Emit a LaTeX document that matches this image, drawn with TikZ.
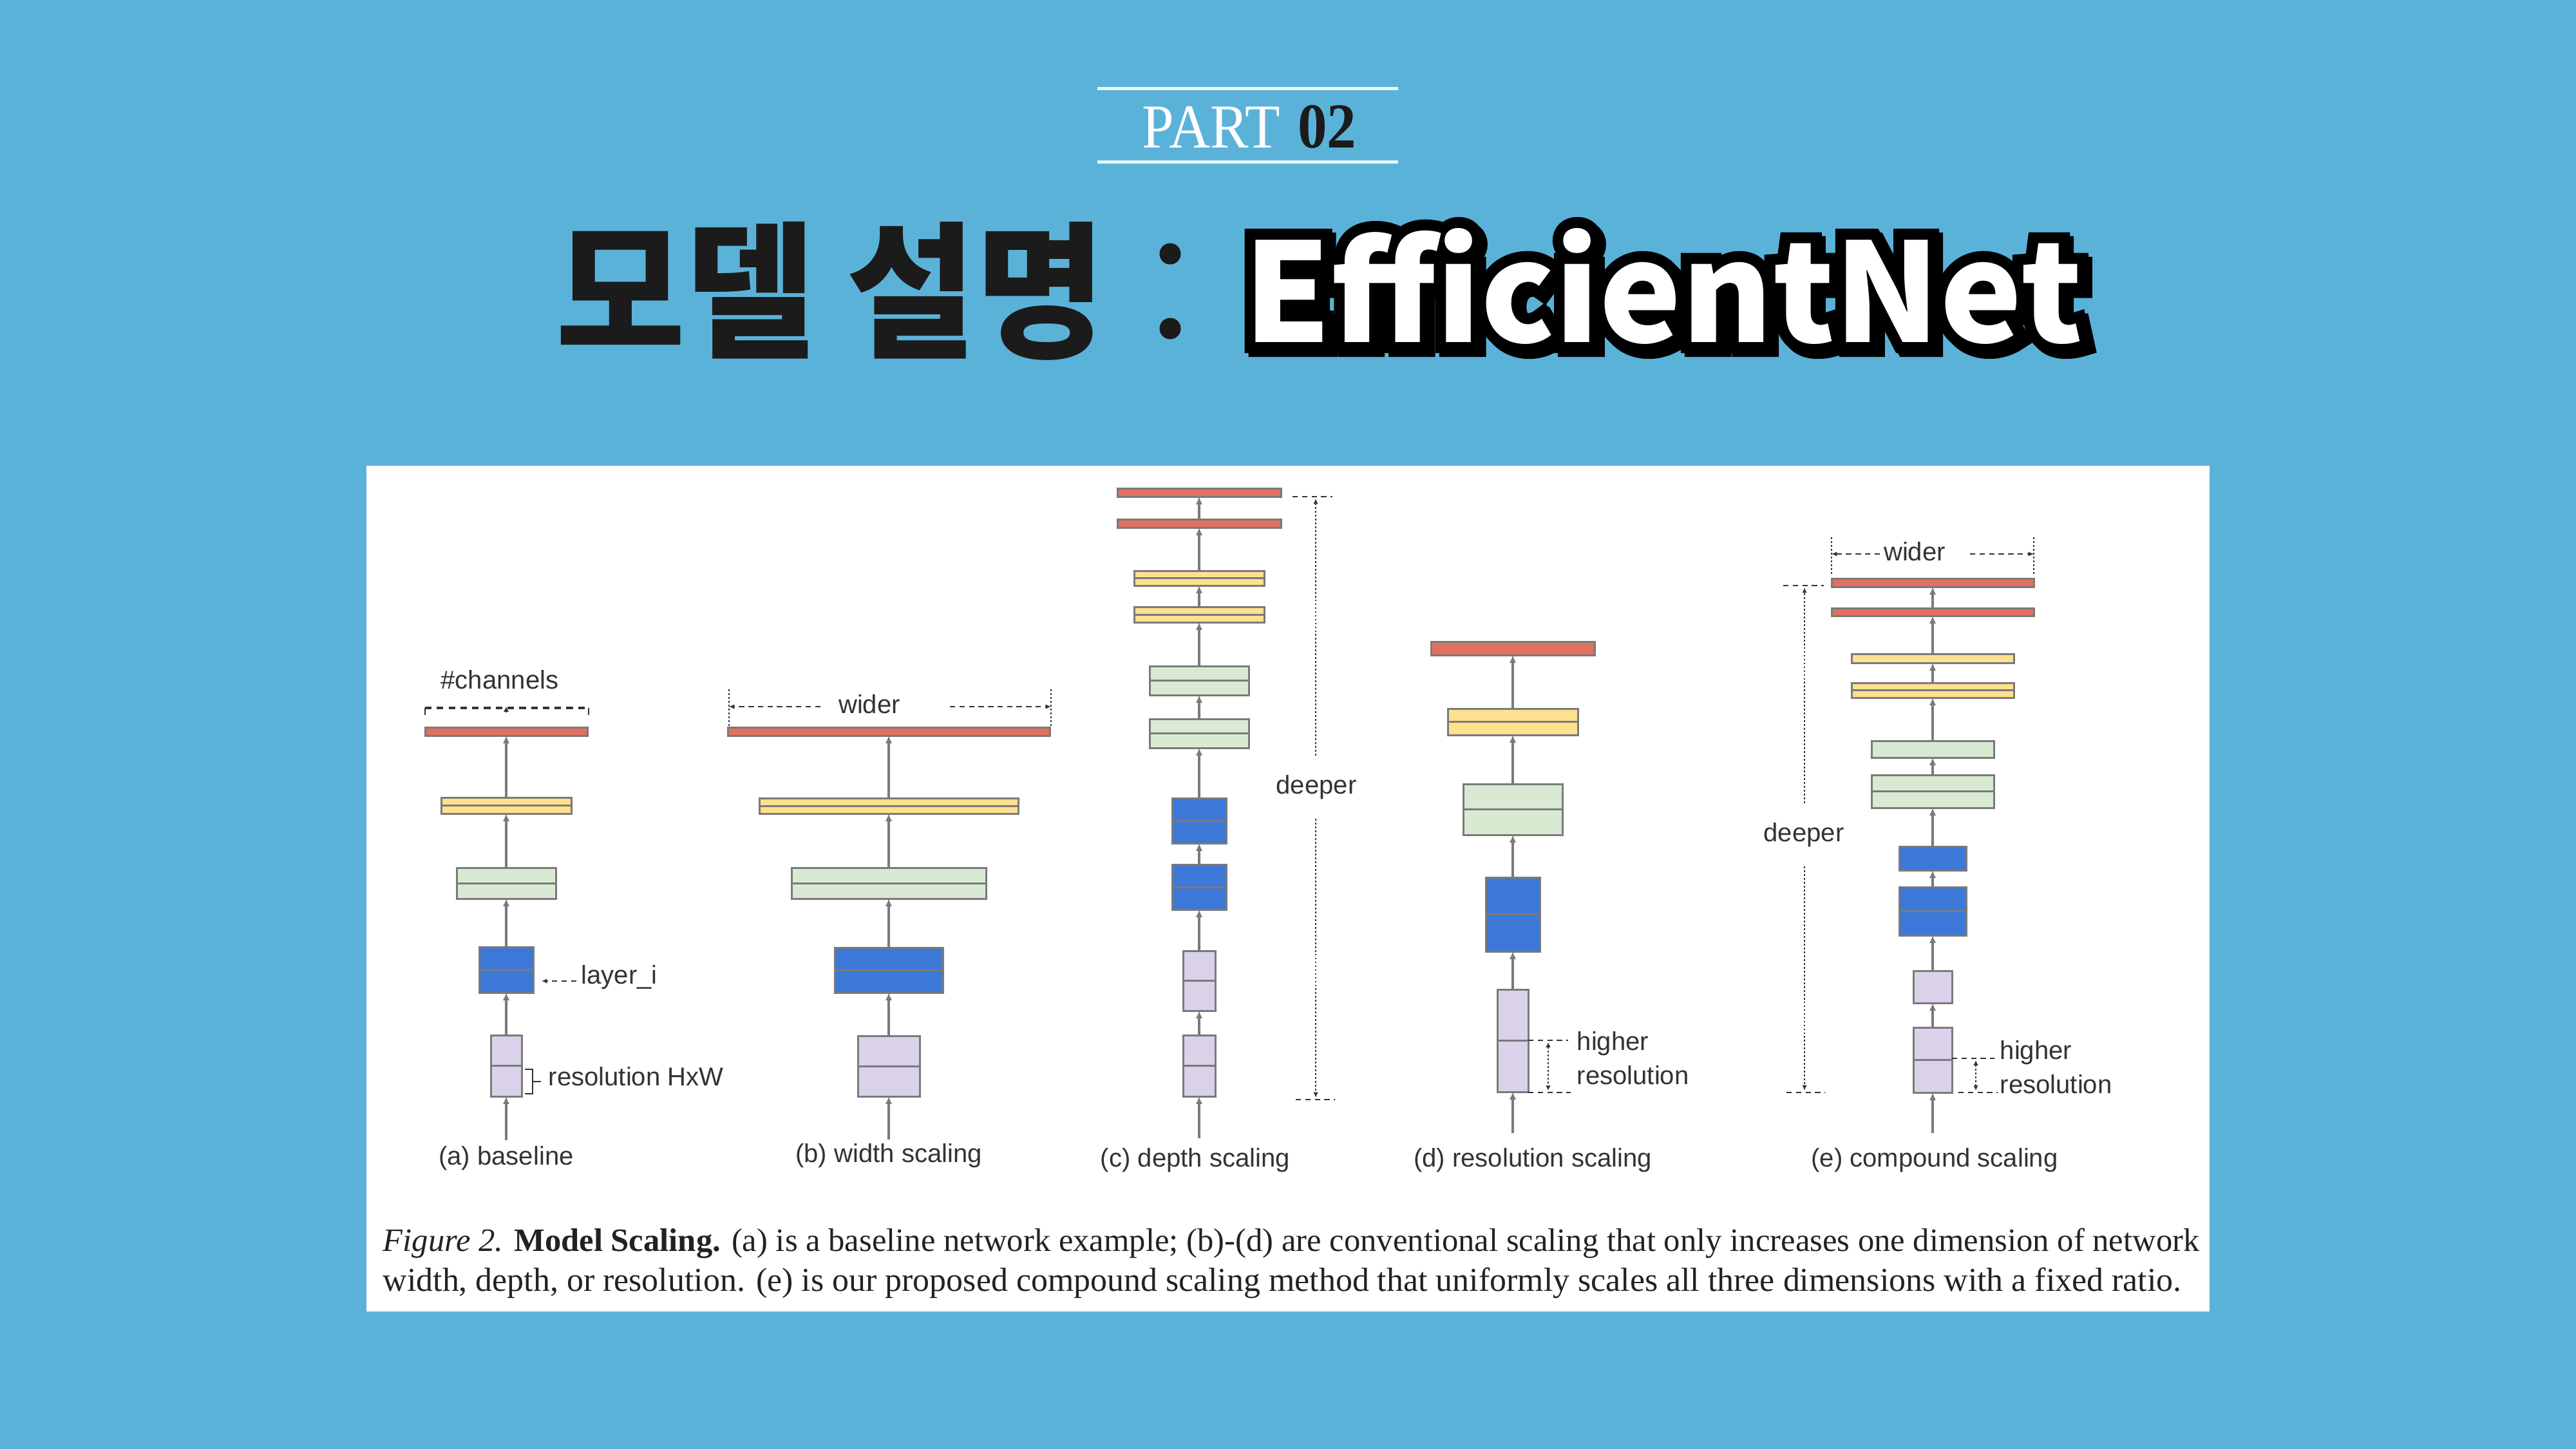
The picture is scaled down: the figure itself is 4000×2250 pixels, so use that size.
\documentclass[tikz,border=0pt]{standalone}
\usepackage{fontspec}
\usepackage{graphicx}
\setmainfont{Liberation Serif}
\newfontfamily\krfont{Noto Sans CJK KR}
\newfontfamily\outlinefont{Noto Sans CJK KR}[BoldFeatures={FakeBold=16}]
\newfontfamily\labelfont{Liberation Sans}
\usetikzlibrary{arrows.meta,fit,calc}

\definecolor{bgblue}{HTML}{5BB2D8}
\definecolor{inkdark}{HTML}{1B1B1B}
\definecolor{rulewhite}{HTML}{EAF5FB}
\definecolor{lyrRed}{HTML}{E0705F}
\definecolor{lyrYellow}{HTML}{FFE08F}
\definecolor{lyrGreen}{HTML}{D9EAD3}
\definecolor{lyrBlue}{HTML}{3C78D8}
\definecolor{lyrPurple}{HTML}{D9D2E9}
\definecolor{edge}{HTML}{7A7A7A}
\definecolor{annot}{HTML}{333333}
\definecolor{captext}{HTML}{222222}

% the outlined title word, set in the given font
\newcommand\effword[1]{\resizebox*{13.01cm}{1.80cm}{#1\bfseries EfficientNet}}

\tikzset{
  lyr/.style={draw=edge, line width=0.85pt, inner sep=0pt, outer sep=0pt},
  split/.style={path picture={\draw[edge, line width=0.85pt]
      (path picture bounding box.west) -- (path picture bounding box.east);}},
  conn/.style={draw=edge, line width=1.1pt, -{Latex[length=3.4pt,width=3pt]}},
  dashline/.style={draw=annot, line width=0.7pt, dash pattern=on 2.4pt off 1.8pt},
  dotline/.style={draw=annot, line width=0.75pt, dash pattern=on 0.8pt off 0.9pt},
  tip/.style={-{Latex[length=2.4pt,width=2.2pt]}},
  lbl/.style={text=annot, inner sep=0pt, font=\labelfont\fontsize{11.4pt}{13pt}\selectfont},
  deep/.style={lbl, inner ysep=0.3cm},
}

% layer block: colour, extra style, name, centre x, half width, top y, bottom y
\newcommand\layer[7]{\node[lyr, fill=#1, #2, fit={(#4-#5,#6) (#4+#5,#7)}] (#3) {};}

\begin{document}
\begin{tikzpicture}[x=0.01cm,y=-0.01cm]
\useasboundingbox (0,0) rectangle (4000,2250);
\fill[bgblue] (0,0) rectangle (4000,2250);

% ---------- heading ----------
\draw[rulewhite, line width=0.05cm] (1704,137) -- (2171,137);
\draw[rulewhite, line width=0.05cm] (1704,251) -- (2171,251);
\node[inner sep=0pt, text=white] (partword) at (1881,197) {\resizebox*{2.14cm}{0.64cm}{PART}};
\node[inner sep=0pt, text=inkdark] (partnum) at (2060.5,197) {\resizebox*{0.91cm}{0.67cm}{\bfseries 02}};

\node[inner sep=0pt, text=inkdark] (krtitle) at (1290,452)
  {\resizebox*{8.53cm}{2.15cm}{\krfont\bfseries 모델 설명}};
\fill[inkdark] (1817,394) circle[radius=0.165cm];
\fill[inkdark] (1817,510) circle[radius=0.165cm];

% stroked black copies give the outline and drop shadow; the white word sits on top
\node[inner sep=0pt, text=black] (effshadow) at (2588.5,450) {\effword{\outlinefont}};
\node[inner sep=0pt, text=black] (effoutline) at (2582.5,444) {\effword{\outlinefont}};
\node[inner sep=0pt, text=white] (efftitle) at (2582.5,444) {\effword{\krfont}};

% ---------- figure panel ----------
\fill[white] (569,723) rectangle (3431,2036);

% (a) baseline
\layer{lyrRed}{}{aR}{786}{126}{1129}{1142}
\layer{lyrYellow}{split}{aY}{786}{101}{1238}{1263}
\layer{lyrGreen}{split}{aG}{786}{77}{1347}{1395}
\layer{lyrBlue}{split}{aB}{786}{42}{1470}{1541}
\layer{lyrPurple}{split}{aP}{786}{24}{1607}{1702}
\coordinate (aIn) at (786,1770);
\draw[conn] (aIn) -- (aP.south);
\draw[conn] (aP.north) -- (aB.south);
\draw[conn] (aB.north) -- (aG.south);
\draw[conn] (aG.north) -- (aY.south);
\draw[conn] (aY.north) -- (aR.south);

\node[lbl] (chn) at (776,1055) {\#channels};
\coordinate (chL) at (660,1099);
\coordinate (chR) at (914,1099);
\draw[draw=annot, line width=0.9pt, dash pattern=on 2.9pt off 2.3pt] (chL) -- (chR);
\draw[annot, line width=0.6pt] (chL) -- ++(0,11);
\draw[annot, line width=0.6pt] (chR) -- ++(0,11);
\draw[annot, line width=0.6pt, -{Latex[length=2.2pt,width=2.4pt]}] (786,1106) -- (786,1097);

\node[lbl, anchor=west] (layeri) at (902,1517) {layer\_i};
\coordinate (layerTip) at (841,1523);
\draw[dashline, tip] (895,1523) -- (layerTip);

\coordinate (brT) at (815,1660);
\coordinate (brB) at (815,1698);
\draw[annot, line width=0.75pt] (brT) -- (827,1660) -- (827,1698) -- (brB);
\draw[annot, line width=0.75pt] (827,1679) -- (840,1679);
\node[lbl, anchor=west] (resA) at (851,1671) {resolution HxW};

\node[lbl] (capA) at (786,1798) {(a) baseline};

% (b) width scaling
\layer{lyrRed}{}{bR}{1380}{250}{1129}{1142}
\layer{lyrYellow}{split}{bY}{1380}{201}{1239}{1263}
\layer{lyrGreen}{split}{bG}{1380}{151}{1347}{1395}
\layer{lyrBlue}{split}{bB}{1380}{84}{1471}{1541}
\layer{lyrPurple}{split}{bP}{1380}{48}{1608}{1702}
\coordinate (bIn) at (1380,1769);
\draw[conn] (bIn) -- (bP.south);
\draw[conn] (bP.north) -- (bB.south);
\draw[conn] (bB.north) -- (bG.south);
\draw[conn] (bG.north) -- (bY.south);
\draw[conn] (bY.north) -- (bR.south);

\node[lbl] (bWider) at (1350,1093) {wider};
\coordinate (bwL) at (1132,1097);
\coordinate (bwR) at (1632,1097);
\draw[dashline, tip] (1274,1097) -- (bwL);
\draw[dashline, tip] (1475,1097) -- (bwR);
\draw[dotline] (1132,1070) -- (1132,1127);
\draw[dotline] (1632,1070) -- (1632,1127);

\node[lbl] (capB) at (1380,1794) {(b) width scaling};

% (c) depth scaling
\layer{lyrRed}{}{cR1}{1862}{127}{758}{771}
\layer{lyrRed}{}{cR2}{1862}{127}{806}{819}
\layer{lyrYellow}{split}{cY1}{1862}{101}{886}{909}
\layer{lyrYellow}{split}{cY2}{1862}{101}{942}{966}
\layer{lyrGreen}{split}{cG1}{1862}{77}{1034}{1079}
\layer{lyrGreen}{split}{cG2}{1862}{77}{1116}{1161}
\layer{lyrBlue}{split}{cB1}{1862}{42}{1239}{1309}
\layer{lyrBlue}{split}{cB2}{1862}{42}{1342}{1412}
\layer{lyrPurple}{split}{cP1}{1862}{25}{1476}{1569}
\layer{lyrPurple}{split}{cP2}{1862}{25}{1607}{1702}
\coordinate (cIn) at (1862,1767);
\draw[conn] (cIn) -- (cP2.south);
\draw[conn] (cP2.north) -- (cP1.south);
\draw[conn] (cP1.north) -- (cB2.south);
\draw[conn] (cB2.north) -- (cB1.south);
\draw[conn] (cB1.north) -- (cG2.south);
\draw[conn] (cG2.north) -- (cG1.south);
\draw[conn] (cG1.north) -- (cY2.south);
\draw[conn] (cY2.north) -- (cY1.south);
\draw[conn] (cY1.north) -- (cR2.south);
\draw[conn] (cR2.north) -- (cR1.south);

\node[deep] (cDeep) at (2044,1222) {deeper};
\coordinate (cTop) at (2043,774);
\coordinate (cBot) at (2043,1704);
\draw[dashline] (2007,771) -- (2069,771);
\draw[dashline] (2012,1707) -- (2073,1707);
\draw[dotline, tip] (cDeep.north -| cTop) -- (cTop);
\draw[dotline, tip] (cDeep.south -| cBot) -- (cBot);

\node[lbl] (capC) at (1856,1801) {(c) depth scaling};

% (d) resolution scaling
\layer{lyrRed}{}{dR}{2349}{127}{996}{1017}
\layer{lyrYellow}{split}{dY}{2349}{101}{1100}{1141}
\layer{lyrGreen}{split}{dG}{2349}{77}{1217}{1296}
\layer{lyrBlue}{split}{dB}{2349}{42}{1362}{1477}
\layer{lyrPurple}{split}{dP}{2349}{24}{1536}{1695}
\coordinate (dIn) at (2349,1759);
\draw[conn] (dIn) -- (dP.south);
\draw[conn] (dP.north) -- (dB.south);
\draw[conn] (dB.north) -- (dG.south);
\draw[conn] (dG.north) -- (dY.south);
\draw[conn] (dY.north) -- (dR.south);

\draw[dashline] (2373,1615) -- (2435,1615);
\draw[dashline] (2373,1696) -- (2439,1696);
\draw[dotline, {Latex[length=2.2pt,width=2.2pt]}-{Latex[length=2.2pt,width=2.2pt]}] (2404,1618) -- (2404,1693);
\node[lbl, anchor=west] (dHigh) at (2448,1620) {higher};
\node[lbl, anchor=west] (dRes) at (2448,1669) {resolution};

\node[lbl] (capD) at (2380,1801) {(d) resolution scaling};

% (e) compound scaling
\layer{lyrRed}{}{eR1}{3001}{157}{898}{911}
\layer{lyrRed}{}{eR2}{3001}{157}{944}{956}
\layer{lyrYellow}{}{eY1}{3001}{126}{1015}{1029}
\layer{lyrYellow}{split}{eY2}{3001}{126}{1060}{1083}
\layer{lyrGreen}{}{eG1}{3001}{95}{1150}{1176}
\layer{lyrGreen}{split}{eG2}{3001}{95}{1203}{1254}
\layer{lyrBlue}{}{eB1}{3001}{52}{1314}{1351}
\layer{lyrBlue}{split}{eB2}{3001}{52}{1377}{1452}
\layer{lyrPurple}{}{eP1}{3001}{30}{1507}{1557}
\layer{lyrPurple}{split}{eP2}{3001}{30}{1595}{1696}
\coordinate (eIn) at (3001,1759);
\draw[conn] (eIn) -- (eP2.south);
\draw[conn] (eP2.north) -- (eP1.south);
\draw[conn] (eP1.north) -- (eB2.south);
\draw[conn] (eB2.north) -- (eB1.south);
\draw[conn] (eB1.north) -- (eG2.south);
\draw[conn] (eG2.north) -- (eG1.south);
\draw[conn] (eG1.north) -- (eY2.south);
\draw[conn] (eY2.north) -- (eY1.south);
\draw[conn] (eY1.north) -- (eR2.south);
\draw[conn] (eR2.north) -- (eR1.south);

\node[lbl] (eWider) at (2973,856) {wider};
\coordinate (ewL) at (2844,860);
\coordinate (ewR) at (3158,860);
\draw[dashline, tip] (2919,860) -- (ewL);
\draw[dashline, tip] (3059,860) -- (ewR);
\draw[dotline] (2844,834) -- (2844,892);
\draw[dotline] (3158,834) -- (3158,892);

\node[deep] (eDeep) at (2801,1296) {deeper};
\coordinate (eTop) at (2802,912);
\coordinate (eBot) at (2802,1693);
\draw[dashline] (2769,909) -- (2832,909);
\draw[dashline] (2774,1696) -- (2834,1696);
\draw[dotline, tip] (eDeep.north -| eTop) -- (eTop);
\draw[dotline, tip] (eDeep.south -| eBot) -- (eBot);

\draw[dashline] (3031,1643) -- (3097,1643);
\draw[dashline] (3041,1696) -- (3102,1696);
\draw[dotline, {Latex[length=2.2pt,width=2.2pt]}-{Latex[length=2.2pt,width=2.2pt]}] (3068,1646) -- (3068,1693);
\node[lbl, anchor=west] (eHigh) at (3105,1634) {higher};
\node[lbl, anchor=west] (eRes) at (3105,1683) {resolution};

\node[lbl] (capE) at (3004,1801) {(e) compound scaling};

% ---------- caption ----------
\node[anchor=base west, inner sep=0pt, text=captext] (capline1) at (594,1942)
  {\resizebox{28.19cm}{!}{\textit{Figure 2.} \textbf{Model Scaling.} (a) is a baseline network example; (b)-(d) are conventional scaling that only increases one dimension of network}};
\node[anchor=base west, inner sep=0pt, text=captext] (capline2) at (594,2004)
  {\resizebox{27.91cm}{!}{width, depth, or resolution. (e) is our proposed compound scaling method that uniformly scales all three dimensions with a fixed ratio.}};
\end{tikzpicture}
\end{document}
